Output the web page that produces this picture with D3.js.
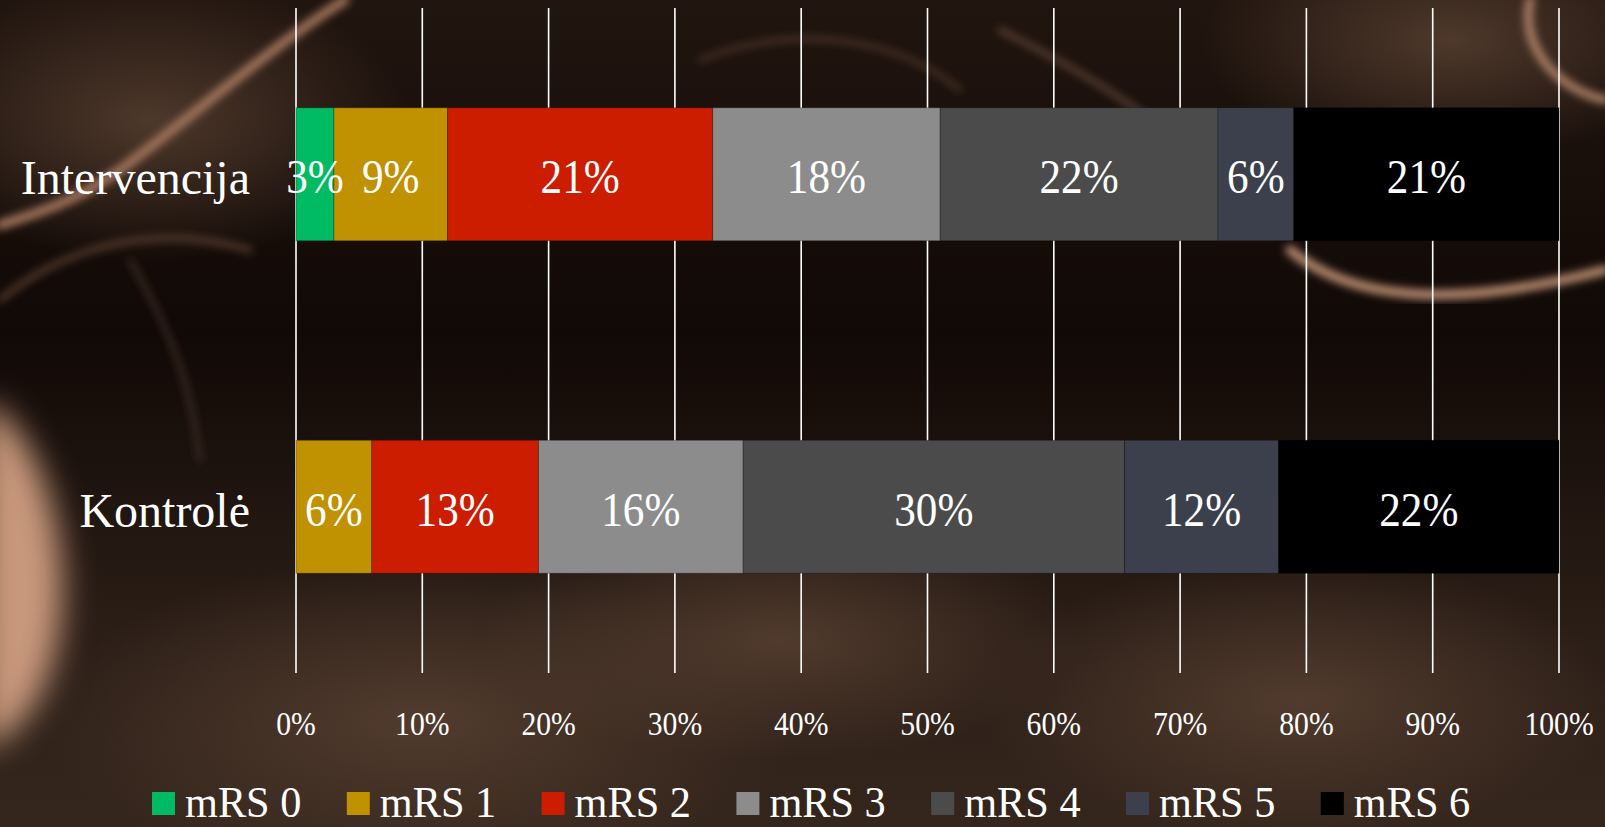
<!DOCTYPE html>
<html lang="lt">

<head>
    <meta charset="UTF-8">
    <title>mRS</title>
    <script type="text/javascript" src="https://cdn.jsdelivr.net/npm/d3@7"></script>
    <style>
        html, body { margin: 0; padding: 0; background: #1b120d; overflow: hidden; }
        text { font-family: "Liberation Serif", "DejaVu Serif", serif; fill: #ffffff; }
    </style>
</head>

<body>
    <svg id="chart"></svg>
</body>

<script>
    // 数据
    var categories = ["Intervencija", "Kontrolė"];
    var seriesNames = ["mRS 0", "mRS 1", "mRS 2", "mRS 3", "mRS 4", "mRS 5", "mRS 6"];
    var intervencija = [3, 9, 21, 18, 22, 6, 21];
    var kontrole = [0, 6, 13.2, 16.2, 30.2, 12.2, 22.2];
    var tickLabels = ["0%", "10%", "20%", "30%", "40%", "50%", "60%", "70%", "80%", "90%", "100%"];
    var colors = ["#00bb64", "#c09100", "#cc1d00", "#8c8c8c", "#4b4b4b", "#3c404c", "#000000"];

    document.addEventListener("DOMContentLoaded", function () {
        drawChart();
    });

    function drawChart() {
        var width = 1605;
        var height = 827;

        var svg = d3.select("#chart")
            .attr("width", width)
            .attr("height", height);

        drawBackground(svg, width, height);

        // 堆叠数据
        var rows = categories.map(function (c, i) {
            var vals = i === 0 ? intervencija : kontrole;
            var row = { category: c };
            seriesNames.forEach(function (s, j) { row[s] = vals[j]; });
            return row;
        });
        var stacked = d3.stack().keys(seriesNames)(rows);

        var x = d3.scaleLinear().domain([0, 100]).range([296, 1559]);
        var y = d3.scaleBand().domain(categories).range([8, 673])
            .paddingInner(0.6).paddingOuter(0.3);
        var color = d3.scaleOrdinal().domain(seriesNames).range(colors);

        // 网格线
        var ticks = d3.range(0, 101, 10);
        svg.append("g").selectAll("line")
            .data(ticks)
            .enter()
            .append("line")
            .attr("x1", d => x(d))
            .attr("x2", d => x(d))
            .attr("y1", 8)
            .attr("y2", 673)
            .attr("stroke", "#ffffff")
            .attr("stroke-width", 1.6);

        // 刻度标签（字形稍窄）
        svg.append("g").selectAll("text")
            .data(ticks)
            .enter()
            .append("text")
            .attr("transform", d => "translate(" + x(d) + ",735) scale(0.9,1)")
            .attr("text-anchor", "middle")
            .style("font-size", "33px")
            .text((d, i) => tickLabels[i]);

        // 条形
        var layers = svg.append("g").selectAll("g")
            .data(stacked)
            .enter()
            .append("g")
            .attr("fill", d => color(d.key));

        layers.selectAll("rect")
            .data(d => d.filter(p => p[1] - p[0] > 0))
            .enter()
            .append("rect")
            .attr("x", d => x(d[0]))
            .attr("y", d => y(d.data.category))
            .attr("width", d => x(d[1]) - x(d[0]))
            .attr("height", y.bandwidth())
            .attr("stroke", "rgba(0,0,0,0.25)")
            .attr("stroke-width", 1);

        // 数据标签
        var labels = [];
        stacked.forEach(function (layer) {
            layer.forEach(function (p) {
                if (p[1] - p[0] > 0) labels.push({ x0: p[0], x1: p[1], cat: p.data.category });
            });
        });
        svg.append("g").selectAll("text")
            .data(labels)
            .enter()
            .append("text")
            .attr("transform", d => "translate(" + x((d.x0 + d.x1) / 2) + "," + (y(d.cat) + y.bandwidth() / 2 + 19) + ") scale(0.9,1)")
            .attr("text-anchor", "middle")
            .style("font-size", "48px")
            .text(d => Math.round(d.x1 - d.x0) + "%");

        // 类别标签
        svg.append("g").selectAll("text")
            .data(categories)
            .enter()
            .append("text")
            .attr("x", 250)
            .attr("y", d => y(d) + y.bandwidth() / 2 + 20)
            .attr("text-anchor", "end")
            .style("font-size", "48px")
            .text(d => d);

        // 图例
        var legend = svg.append("g").selectAll("g")
            .data(seriesNames)
            .enter()
            .append("g")
            .attr("transform", (d, i) => "translate(" + (152 + i * 194.8) + ",0)");
        legend.append("rect")
            .attr("x", 0)
            .attr("y", 792)
            .attr("width", 23)
            .attr("height", 23)
            .attr("fill", d => color(d));
        legend.append("text")
            .attr("transform", "translate(33,817) scale(0.94,1)")
            .style("font-size", "45px")
            .text(d => d);
    }

    // 背景（照片的近似）
    function drawBackground(svg, width, height) {
        var defs = svg.append("defs");
        var lg = defs.append("linearGradient").attr("id", "bg").attr("x1", 0).attr("y1", 0).attr("x2", 0).attr("y2", 1);
        lg.append("stop").attr("offset", "0%").attr("stop-color", "#21150f");
        lg.append("stop").attr("offset", "40%").attr("stop-color", "#110906");
        lg.append("stop").attr("offset", "75%").attr("stop-color", "#2a1d16");
        lg.append("stop").attr("offset", "100%").attr("stop-color", "#35261d");

        var rg = defs.append("radialGradient").attr("id", "glow");
        rg.append("stop").attr("offset", "0%").attr("stop-color", "#5a4233").attr("stop-opacity", 0.8);
        rg.append("stop").attr("offset", "100%").attr("stop-color", "#5a4233").attr("stop-opacity", 0);

        defs.append("filter").attr("id", "blur")
            .attr("x", "-20%").attr("y", "-20%").attr("width", "140%").attr("height", "140%")
            .append("feGaussianBlur").attr("stdDeviation", 4);
        defs.append("filter").attr("id", "blurBig")
            .attr("x", "-100%").attr("y", "-50%").attr("width", "300%").attr("height", "200%")
            .append("feGaussianBlur").attr("stdDeviation", 16);

        svg.append("rect").attr("width", width).attr("height", height).attr("fill", "url(#bg)");

        var glows = [[420, 720, 380, 160], [780, 640, 300, 120], [1300, 700, 320, 140], [150, 120, 260, 140], [1450, 40, 250, 120]];
        svg.append("g").selectAll("ellipse")
            .data(glows)
            .enter()
            .append("ellipse")
            .attr("cx", d => d[0]).attr("cy", d => d[1])
            .attr("rx", d => d[2]).attr("ry", d => d[3])
            .attr("fill", "url(#glow)");

        // 左侧亮色形状
        svg.append("path")
            .attr("d", "M-20,400 C30,420 65,510 62,600 C58,680 30,730 -20,750 Z")
            .attr("fill", "#c8987b")
            .attr("filter", "url(#blurBig)");

        var curves = [
            ["M345,0 C280,40 200,110 120,170 C70,205 30,215 0,225", "#a97a60", 9],
            ["M0,300 C60,250 150,220 250,250", "#5e4333", 5],
            ["M1290,250 C1350,300 1450,310 1605,270", "#c19276", 9],
            ["M1530,0 C1520,50 1560,90 1605,100", "#b4866b", 8],
            ["M1000,30 C1100,80 1180,130 1230,200", "#624737", 5],
            ["M700,60 C800,20 900,40 960,90", "#523b2f", 4],
            ["M130,260 C170,330 190,380 200,460", "#45322a", 4]
        ];
        svg.append("g").selectAll("path")
            .data(curves)
            .enter()
            .append("path")
            .attr("d", d => d[0])
            .attr("fill", "none")
            .attr("stroke", d => d[1])
            .attr("stroke-width", d => d[2])
            .attr("stroke-linecap", "round")
            .attr("filter", "url(#blur)");
    }
</script>

</html>
